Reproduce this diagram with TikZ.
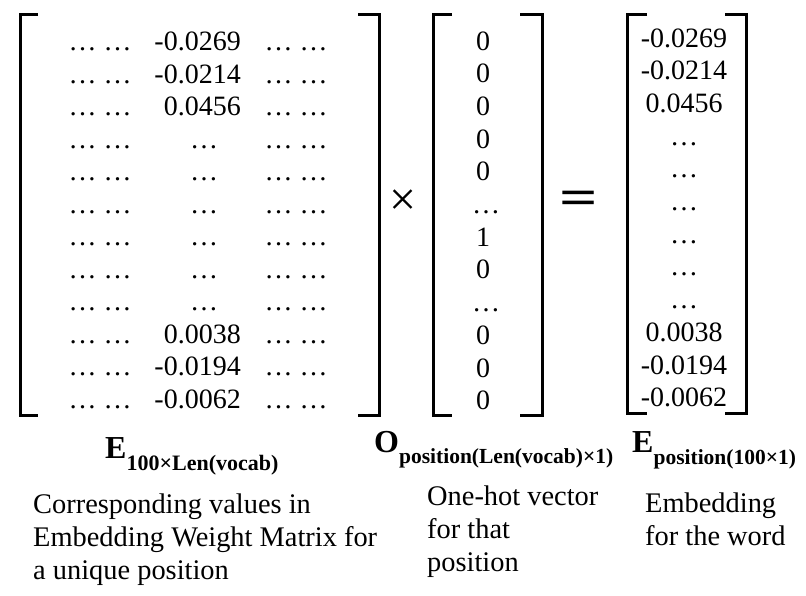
\documentclass[tikz,border=0pt]{standalone}
\usepackage{fontspec}
\setmainfont{Liberation Serif}
\usepackage{graphicx}
\begin{document}
\begin{tikzpicture}[x=1pt,y=-1pt,
  brk/.style={line width=3pt,line cap=butt,line join=miter},
  cell/.style={inner sep=0pt,anchor=base,font=\fontsize{28}{33}\selectfont},
  rcell/.style={cell,anchor=base east},
  lbl/.style={inner sep=0pt,anchor=base west,font=\bfseries\fontsize{32}{32}\selectfont},
  body/.style={inner sep=0pt,anchor=base west,align=left,font=\fontsize{28.4}{33}\selectfont},
  op/.style={inner sep=0pt}]
\useasboundingbox (0,0) rectangle (806,595);
% ---------- left matrix brackets
\draw[brk] (38,14) -- (20,14) -- (20,415) -- (38,415);
\draw[brk] (358,14) -- (379,14) -- (379,415) -- (358,415);
% ---------- left matrix entries
\foreach \i in {0,...,11}{
  \pgfmathsetmacro{\yy}{50.5+32.5*\i}
  \node[cell] (l\i) at (100,\yy) {… …};
  \node[cell] (r\i) at (296,\yy) {… …};
}
\foreach \i/\v in {0/-0.0269,1/-0.0214,2/0.0456,9/0.0038,10/-0.0194,11/-0.0062}{
  \pgfmathsetmacro{\yy}{50.5+32.5*\i}
  \node[rcell] (m\i) at (241,\yy) {\v};
}
\foreach \i in {3,...,8}{
  \pgfmathsetmacro{\yy}{50.5+32.5*\i}
  \node[cell] (m\i) at (204,\yy) {…};
}
% ---------- times
\node[op,font=\fontsize{48}{48}\selectfont] (times) at (403,203) {×};
% ---------- one-hot vector
\draw[brk] (452,14) -- (433,14) -- (433,415) -- (452,415);
\draw[brk] (520,14) -- (542,14) -- (542,415) -- (520,415);
\foreach \i/\v in {0/0,1/0,2/0,3/0,4/0,6/1,7/0,9/0,10/0,11/0}{
  \pgfmathsetmacro{\yy}{50+32.7*\i}
  \node[cell] (o\i) at (483,\yy) {\v};
}
\foreach \i in {5,8}{
  \pgfmathsetmacro{\yy}{50+32.7*\i}
  \node[cell] (o\i) at (486,\yy) {…};
}
% ---------- equals
\node[op,font=\bfseries\fontsize{50}{50}\selectfont] (eq) at (579,203) {\scalebox{1.35}[1]{=}};
% ---------- result vector
\draw[brk] (647,14) -- (627,14) -- (627,413) -- (647,413);
\draw[brk] (725,14) -- (746,14) -- (746,413) -- (725,413);
\foreach \i/\v in {0/-0.0269,1/-0.0214,2/0.0456,9/0.0038,10/-0.0194,11/-0.0062}{
  \pgfmathsetmacro{\yy}{47+32.7*\i}
  \node[cell] (e\i) at (684,\yy) {\v};
}
\foreach \i in {3,...,8}{
  \pgfmathsetmacro{\yy}{47+32.7*\i}
  \node[cell] (e\i) at (684,\yy) {…};
}
% ---------- labels
\node[lbl] (labE) at (105,458) {E\raisebox{-12pt}{\fontsize{22}{22}\selectfont 100×Len(vocab)}};
\node[lbl] (labO) at (374,452) {O\raisebox{-11pt}{\fontsize{21.5}{22}\selectfont position(Len(vocab)×1)}};
\node[lbl] (labR) at (632,452) {E\raisebox{-12pt}{\fontsize{21.5}{22}\selectfont position(100×1)}};
% ---------- descriptions (anchor = baseline of last line)
\node[body] (d1) at (33,579) {Corresponding values in\\Embedding Weight Matrix for\\a unique position};
\node[body] (d2) at (427,571) {One-hot vector\\for that\\position};
\node[body] (d3) at (645,545) {Embedding\\for the word};
\end{tikzpicture}
\end{document}
